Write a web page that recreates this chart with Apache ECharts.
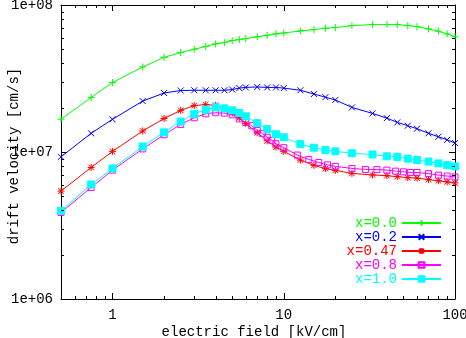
<!DOCTYPE html>
<html>
<head>
<meta charset="utf-8">
<script src="https://cdn.jsdelivr.net/npm/echarts@6/dist/echarts.min.js"></script>
<style>html,body{margin:0;padding:0;background:#fff}#c{width:466px;height:338px}</style>
</head>
<body>
<div id="c"></div>
<script>
// electric field grid (kV/cm) shared by most series
var fieldGrid = [0.5, 0.75, 1, 1.5, 2, 2.5, 3, 3.5, 4, 4.5, 5, 5.5, 6, 7, 8, 9, 10, 12.5, 15, 17.5, 20, 25, 33, 40, 46, 53, 60, 70, 80, 90, 100];
// denser grid used by x=0.8
var fieldGridDense = [0.5, 0.75, 1, 1.5, 2, 2.5, 3, 3.5, 4, 4.5, 5, 5.5, 6, 6.5, 7, 7.5, 8, 8.5, 9, 10, 12, 14, 16, 18, 20, 25, 30, 35, 40, 45, 50, 55, 60, 70, 80, 90, 100];

var vX00 = [1.67e7, 2.35e7, 2.97e7, 3.79e7, 4.40e7, 4.75e7, 5.0e7, 5.22e7, 5.44e7, 5.55e7, 5.73e7, 5.82e7, 5.91e7, 6.08e7, 6.22e7, 6.36e7, 6.45e7, 6.66e7, 6.80e7, 6.95e7, 7.02e7, 7.24e7, 7.36e7, 7.36e7, 7.36e7, 7.24e7, 7.13e7, 6.87e7, 6.63e7, 6.36e7, 6.07e7];
var vX02 = [9.27e6, 1.34e7, 1.67e7, 2.22e7, 2.52e7, 2.62e7, 2.63e7, 2.63e7, 2.63e7, 2.63e7, 2.66e7, 2.72e7, 2.75e7, 2.77e7, 2.75e7, 2.75e7, 2.72e7, 2.63e7, 2.48e7, 2.36e7, 2.26e7, 2.01e7, 1.83e7, 1.70e7, 1.59e7, 1.51e7, 1.44e7, 1.34e7, 1.27e7, 1.21e7, 1.15e7];
var vX047 = [5.42e6, 7.85e6, 1.01e7, 1.39e7, 1.69e7, 1.92e7, 2.07e7, 2.10e7, 2.08e7, 1.97e7, 1.84e7, 1.71e7, 1.56e7, 1.35e7, 1.19e7, 1.08e7, 1.01e7, 8.81e6, 8.11e6, 7.71e6, 7.50e6, 7.15e6, 6.98e6, 6.90e6, 6.80e6, 6.69e6, 6.65e6, 6.49e6, 6.37e6, 6.26e6, 6.16e6];
var vX08 = [3.88e6, 5.74e6, 7.53e6, 1.05e7, 1.31e7, 1.54e7, 1.71e7, 1.82e7, 1.85e7, 1.84e7, 1.79e7, 1.68e7, 1.59e7, 1.51e7, 1.40e7, 1.34e7, 1.26e7, 1.20e7, 1.14e7, 1.07e7, 9.53e6, 8.90e6, 8.49e6, 8.18e6, 7.98e6, 7.73e6, 7.61e6, 7.59e6, 7.53e6, 7.41e6, 7.33e6, 7.26e6, 7.26e6, 7.13e6, 6.96e6, 6.86e6, 6.77e6];
var vX10 = [3.98e6, 6.01e6, 7.73e6, 1.09e7, 1.36e7, 1.61e7, 1.82e7, 1.94e7, 2.01e7, 1.98e7, 1.92e7, 1.84e7, 1.75e7, 1.57e7, 1.43e7, 1.32e7, 1.26e7, 1.13e7, 1.07e7, 1.03e7, 1.01e7, 9.80e6, 9.62e6, 9.35e6, 9.26e6, 9.02e6, 8.81e6, 8.61e6, 8.36e6, 8.14e6, 7.98e6];

var seriesNames = ['x=0.0', 'x=0.2', 'x=0.47', 'x=0.8', 'x=1.0'];
var xTickLabels = ['1', '10', '100'];
var yTickLabels = ['1e+06', '1e+07', '1e+08'];
var xMinorTicks = [0.6, 0.7, 0.8, 0.9, 2, 3, 4, 5, 6, 7, 8, 9, 20, 30, 40, 50, 60, 70, 80, 90];
var yMinorTicks = [2e6, 3e6, 4e6, 5e6, 6e6, 7e6, 8e6, 9e6, 2e7, 3e7, 4e7, 5e7, 6e7, 7e7, 8e7, 9e7];

var colors = ['#00ff00', '#0000ff', '#ff0000', '#ff00ff', '#00ffff'];
var FONT = '"Liberation Mono", "DejaVu Sans Mono", monospace';

function pairs(xs, ys) { return xs.map(function (x, i) { return [x, ys[i]]; }); }

var symPlus = 'path://M0,5L10,5M5,0L5,10';
var symCross = 'path://M0,0L10,10M0,10L10,0';
var symStar = 'path://M0,5L10,5M5,0L5,10M1,1L9,9M1,9L9,1';
var symBox = 'path://M0,0L10,0L10,10L0,10Z';

function lineSeries(name, data, color, symbol, size, filled) {
  return {
    name: name, type: 'line', data: data, symbol: symbol, symbolSize: size,
    showAllSymbol: true, animation: false, z: 3,
    lineStyle: { color: color, width: 1 },
    itemStyle: { color: filled ? color : 'rgba(0,0,0,0)', borderColor: color, borderWidth: 1 }
  };
}

var chart = echarts.init(document.getElementById('c'), null, { renderer: 'canvas' });

function fmtX(v) {
  var l = Math.round(Math.log10(v));
  if (Math.abs(Math.log10(v) - l) > 1e-6) return '';
  var s = String(Math.pow(10, l));
  return xTickLabels.indexOf(s) >= 0 ? s : '';
}
function fmtY(v) {
  var l = Math.log10(v);
  var r = Math.round(l);
  if (Math.abs(l - r) > 1e-6) return '';
  var s = '1e+0' + r;
  return yTickLabels.indexOf(s) >= 0 ? s : '';
}

var axisCommon = {
  axisLine: { show: true, lineStyle: { color: '#000', width: 1 } },
  axisTick: { show: true, inside: true, length: 6, lineStyle: { color: '#000', width: 1 } },
  splitLine: { show: false },
  minorTick: { show: false }
};

chart.setOption({
  backgroundColor: '#fff',
  animation: false,
  textStyle: { fontFamily: FONT },
  grid: { left: 61, right: 11, top: 5, bottom: 39, containLabel: false, outerBoundsMode: 'none' },
  legend: {
    orient: 'vertical', align: 'right', right: 24, bottom: 52, padding: 0,
    itemWidth: 39, itemHeight: 7, itemGap: 0,
    textStyle: { fontFamily: FONT, fontSize: 14, lineHeight: 14 },
    data: seriesNames.map(function (n, i) { return { name: n, textStyle: { color: colors[i] } }; })
  },
  xAxis: [
    Object.assign({}, axisCommon, {
      type: 'log', min: 0.5, max: 100, position: 'bottom',
      name: 'electric field [kV/cm]', nameLocation: 'middle', nameGap: 26, nameMoveOverlap: false,
      nameTextStyle: { fontFamily: FONT, fontSize: 14, color: '#000', padding: [0, 8, 0, 0] },
      axisLabel: { show: true, margin: 9, color: '#000', fontFamily: FONT, fontSize: 14, formatter: fmtX, showMinLabel: false, hideOverlap: false }
    }),
    Object.assign({}, axisCommon, {
      type: 'log', min: 0.5, max: 100, position: 'top',
      axisLabel: { show: false }
    })
  ],
  yAxis: [
    Object.assign({}, axisCommon, {
      type: 'log', min: 1e6, max: 1e8, position: 'left',
      name: 'drift velocity [cm/s]', nameLocation: 'middle', nameGap: 40, nameRotate: 90, nameMoveOverlap: false,
      nameTextStyle: { fontFamily: FONT, fontSize: 14, color: '#000', padding: [0, 8, 0, 0] },
      axisLabel: { show: true, margin: 8, color: '#000', fontFamily: FONT, fontSize: 14, formatter: fmtY }
    }),
    Object.assign({}, axisCommon, {
      type: 'log', min: 1e6, max: 1e8, position: 'right',
      axisLabel: { show: false }
    })
  ],
  series: [
    lineSeries(seriesNames[0], pairs(fieldGrid, vX00), colors[0], symPlus, 7, false),
    lineSeries(seriesNames[1], pairs(fieldGrid, vX02), colors[1], symCross, 6, false),
    lineSeries(seriesNames[2], pairs(fieldGrid, vX047), colors[2], symStar, 7, false),
    lineSeries(seriesNames[3], pairs(fieldGridDense, vX08), colors[3], symBox, 6, false),
    lineSeries(seriesNames[4], pairs(fieldGrid, vX10), colors[4], 'rect', 7, true),
    {
      type: 'custom', silent: true, clip: false, z: 5,
      data: xMinorTicks.map(function (v) { return [v, 1e6]; }),
      renderItem: function (params, api) {
        var v = api.value(0);
        var b = api.coord([v, 1e6]);
        var t = api.coord([v, 1e8]);
        var x = Math.round(b[0]) + 0.5;
        return { type: 'group', children: [
          { type: 'line', shape: { x1: x, y1: b[1], x2: x, y2: b[1] - 3 }, style: { stroke: '#000', lineWidth: 1 } },
          { type: 'line', shape: { x1: x, y1: t[1], x2: x, y2: t[1] + 3 }, style: { stroke: '#000', lineWidth: 1 } }
        ] };
      }
    },
    {
      type: 'custom', silent: true, clip: false, z: 5,
      data: yMinorTicks.map(function (v) { return [0.5, v]; }),
      renderItem: function (params, api) {
        var v = api.value(1);
        var l = api.coord([0.5, v]);
        var r = api.coord([100, v]);
        var y = Math.round(l[1]) + 0.5;
        return { type: 'group', children: [
          { type: 'line', shape: { x1: l[0], y1: y, x2: l[0] + 3, y2: y }, style: { stroke: '#000', lineWidth: 1 } },
          { type: 'line', shape: { x1: r[0], y1: y, x2: r[0] - 3, y2: y }, style: { stroke: '#000', lineWidth: 1 } }
        ] };
      }
    }
  ]
});
</script>
</body>
</html>
